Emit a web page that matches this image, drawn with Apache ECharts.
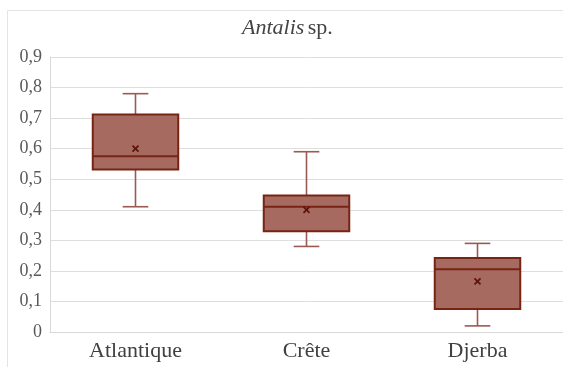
<!DOCTYPE html>
<html><head><meta charset="utf-8">
<script src="https://cdn.jsdelivr.net/npm/echarts@6/dist/echarts.min.js"></script>
<style>html,body{margin:0;padding:0;background:#fff}#c{width:563px;height:367px}</style>
</head><body><div id="c"></div>
<script>
const categories = ['Atlantique', 'Crête', 'Djerba'];
const whiskerLow = [0.41, 0.28, 0.02];
const q1 = [0.532, 0.33, 0.075];
const median = [0.575, 0.41, 0.205];
const q3 = [0.712, 0.447, 0.242];
const whiskerHigh = [0.78, 0.59, 0.29];
const mean = [0.60, 0.40, 0.166];
const yMin = 0, yMax = 0.9, yStep = 0.1;

const FONT = '"Liberation Serif", "DejaVu Serif", serif';
const chart = echarts.init(document.getElementById('c'), null, {renderer: 'canvas'});
const data = categories.map((c, i) => [i, whiskerLow[i], q1[i], median[i], q3[i], whiskerHigh[i], mean[i]]);

const option = {
  animation: false,
  backgroundColor: '#fff',
  graphic: [
    {type: 'polyline', shape: {points: [[7.5, 367], [7.5, 10.5], [563, 10.5]]}, style: {stroke: '#e4e4e4', fill: null, lineWidth: 1}, silent: true},
    {type: 'text', left: 242, top: 17, style: {rich: {i: {fontStyle: 'italic', fontFamily: FONT, fontSize: 22, fill: '#444'}, n: {fontFamily: FONT, fontSize: 22, fill: '#444'}}, text: '{i|Antalis} {n|sp.}'}}
  ],
  grid: {left: 50, right: -1, top: 57, bottom: 35, containLabel: false},
  xAxis: {
    type: 'category', data: categories,
    axisLine: {show: true, lineStyle: {color: '#d9d9d9'}},
    axisTick: {show: false},
    axisLabel: {color: '#404040', fontFamily: FONT, fontSize: 22, margin: 8},
    splitLine: {show: false}
  },
  yAxis: {
    type: 'value', min: yMin, max: yMax, interval: yStep,
    axisLine: {show: true, lineStyle: {color: '#d9d9d9'}},
    axisTick: {show: false},
    axisLabel: {color: '#595959', fontFamily: FONT, fontSize: 18, margin: 8,
      formatter: v => v === 0 ? '0' : v.toFixed(1).replace('.', ',')},
    splitLine: {show: true, lineStyle: {color: '#dedede', width: 1}}
  },
  series: [{
    type: 'custom',
    data: data,
    encode: {x: 0, y: [1, 2, 3, 4, 5, 6]},
    renderItem: function (params, api) {
      const x = api.value(0);
      const pLow = api.coord([x, api.value(1)]);
      const pQ1 = api.coord([x, api.value(2)]);
      const pMed = api.coord([x, api.value(3)]);
      const pQ3 = api.coord([x, api.value(4)]);
      const pHigh = api.coord([x, api.value(5)]);
      const pMean = api.coord([x, api.value(6)]);
      const band = api.size([1, 0])[0];
      const bw = band * 0.5, cw = band * 0.15;
      const cx = pQ1[0];
      const wStyle = {stroke: '#9a5a54', lineWidth: 1.6};
      const dStyle = {stroke: '#772415', lineWidth: 2};
      const m = 3;
      return {type: 'group', children: [
        {type: 'line', shape: {x1: cx, y1: pLow[1], x2: cx, y2: pQ1[1]}, style: wStyle},
        {type: 'line', shape: {x1: cx, y1: pQ3[1], x2: cx, y2: pHigh[1]}, style: wStyle},
        {type: 'line', shape: {x1: cx - cw / 2, y1: pLow[1], x2: cx + cw / 2, y2: pLow[1]}, style: wStyle},
        {type: 'line', shape: {x1: cx - cw / 2, y1: pHigh[1], x2: cx + cw / 2, y2: pHigh[1]}, style: wStyle},
        {type: 'rect', shape: {x: cx - bw / 2, y: pQ3[1], width: bw, height: pQ1[1] - pQ3[1]}, style: {fill: '#a76a60', stroke: '#772415', lineWidth: 2}},
        {type: 'line', shape: {x1: cx - bw / 2, y1: pMed[1], x2: cx + bw / 2, y2: pMed[1]}, style: dStyle},
        {type: 'line', shape: {x1: pMean[0] - m, y1: pMean[1] - m, x2: pMean[0] + m, y2: pMean[1] + m}, style: {stroke: '#5e1408', lineWidth: 1.8}},
        {type: 'line', shape: {x1: pMean[0] - m, y1: pMean[1] + m, x2: pMean[0] + m, y2: pMean[1] - m}, style: {stroke: '#5e1408', lineWidth: 1.8}}
      ]};
    }
  }]
};
chart.setOption(option);
</script></body></html>
